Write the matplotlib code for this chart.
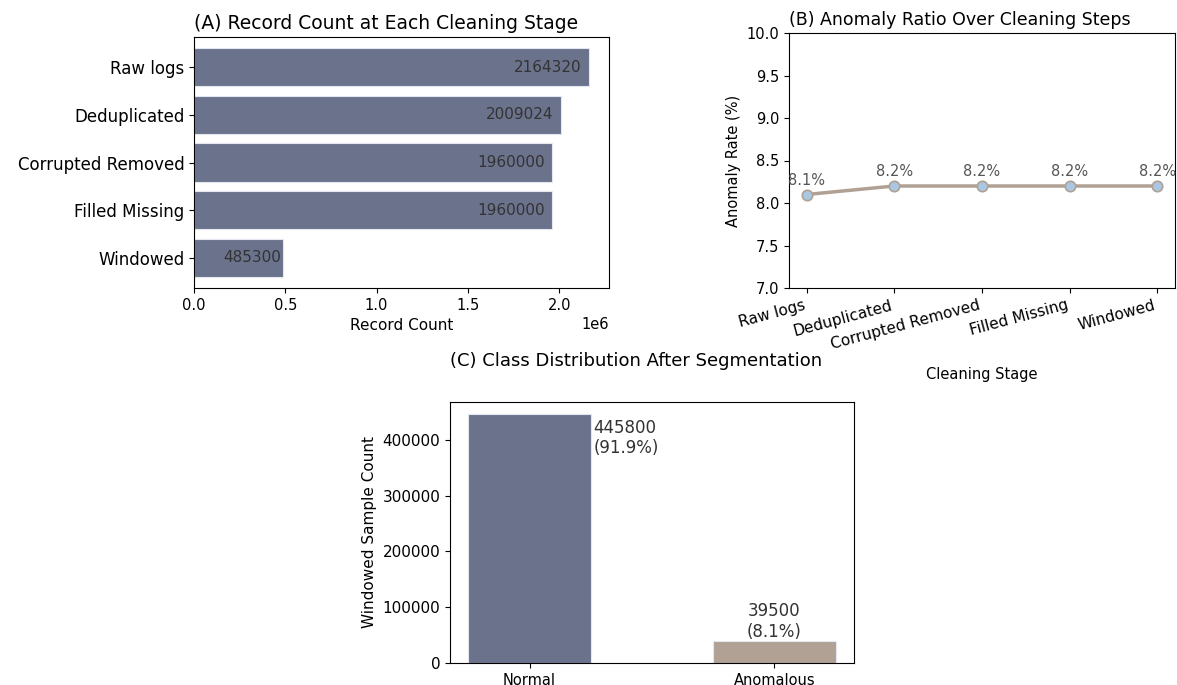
import matplotlib
matplotlib.use("Agg")
import matplotlib.pyplot as plt

# data
stages = ["Raw logs", "Deduplicated", "Corrupted Removed", "Filled Missing", "Windowed"]
record_counts = [2164320, 2009024, 1960000, 1960000, 485300]
anomaly_rates = [8.1, 8.2, 8.2, 8.2, 8.2]
classes = ["Normal", "Anomalous"]
class_counts = [445800, 39500]
class_pcts = [91.9, 8.1]

bar_color = "#6b728c"
tan_color = "#b0a194"
point_color = "#a9c6e2"
label_color = "#333333"

W, H = 1177, 685
fig = plt.figure(figsize=(W / 100, H / 100), dpi=100)


def box(left, top, right, bottom):
    return [left / W, 1 - bottom / H, (right - left) / W, (bottom - top) / H]


# (A) record counts per stage
ax1 = fig.add_axes(box(194, 37, 609, 288))
ax1.barh(stages, record_counts, color=bar_color, edgecolor="#e4e6f0", linewidth=0.8)
ax1.invert_yaxis()
for i, v in enumerate(record_counts):
    ax1.text(v * 0.98, i, str(v), ha="right", va="center",
             fontsize=11, color=label_color)
ax1.set_title("(A) Record Count at Each Cleaning Stage", fontsize=13.5, loc="left")
ax1.set_xlabel("Record Count", fontsize=11)
ax1.tick_params(axis="y", labelsize=12)
ax1.tick_params(axis="x", labelsize=10.5)
ax1.xaxis.get_offset_text().set_fontsize(10.5)

# (B) anomaly ratio line
ax2 = fig.add_axes(box(789, 33, 1175, 288))
ax2.plot(stages, anomaly_rates, color=tan_color, linewidth=2.5, marker="o",
         markersize=7.5, markerfacecolor=point_color, markeredgecolor=tan_color,
         markeredgewidth=1.2)
for i, v in enumerate(anomaly_rates):
    ax2.annotate(f"{v:.1f}%", (i, v), xytext=(0, 5), textcoords="offset points",
                 ha="center", va="bottom", fontsize=10.5, color="#555555")
ax2.set_ylim(7, 10)
ax2.set_title("(B) Anomaly Ratio Over Cleaning Steps", fontsize=12.5, loc="left")
ax2.set_xlabel("Cleaning Stage", fontsize=10.5, labelpad=11)
ax2.set_ylabel("Anomaly Rate (%)", fontsize=10.5)
ax2.tick_params(axis="x", labelsize=11)
ax2.tick_params(axis="y", labelsize=10.5)
plt.setp(ax2.get_xticklabels(), rotation=15, ha="right")

# (C) class distribution
ax3 = fig.add_axes(box(450, 402, 854, 663))
ax3.bar(classes, class_counts, width=0.5, color=[bar_color, tan_color],
        edgecolor="#e4e6f0", linewidth=0.8)
ax3.annotate(f"{class_counts[0]}\n({class_pcts[0]}%)", (0.25, class_counts[0]),
             xytext=(2, -3), textcoords="offset points",
             ha="left", va="top", fontsize=12, color=label_color)
ax3.text(1, class_counts[1], f"{class_counts[1]}\n({class_pcts[1]}%)",
         ha="center", va="bottom", fontsize=12, color=label_color)
ax3.set_ylabel("Windowed Sample Count", fontsize=11)
ax3.tick_params(axis="y", labelsize=11)
ax3.tick_params(axis="x", labelsize=10.5)
ax3.set_title("(C) Class Distribution After Segmentation", fontsize=13,
              loc="left", pad=26)

fig.savefig("out.png", dpi=100)
